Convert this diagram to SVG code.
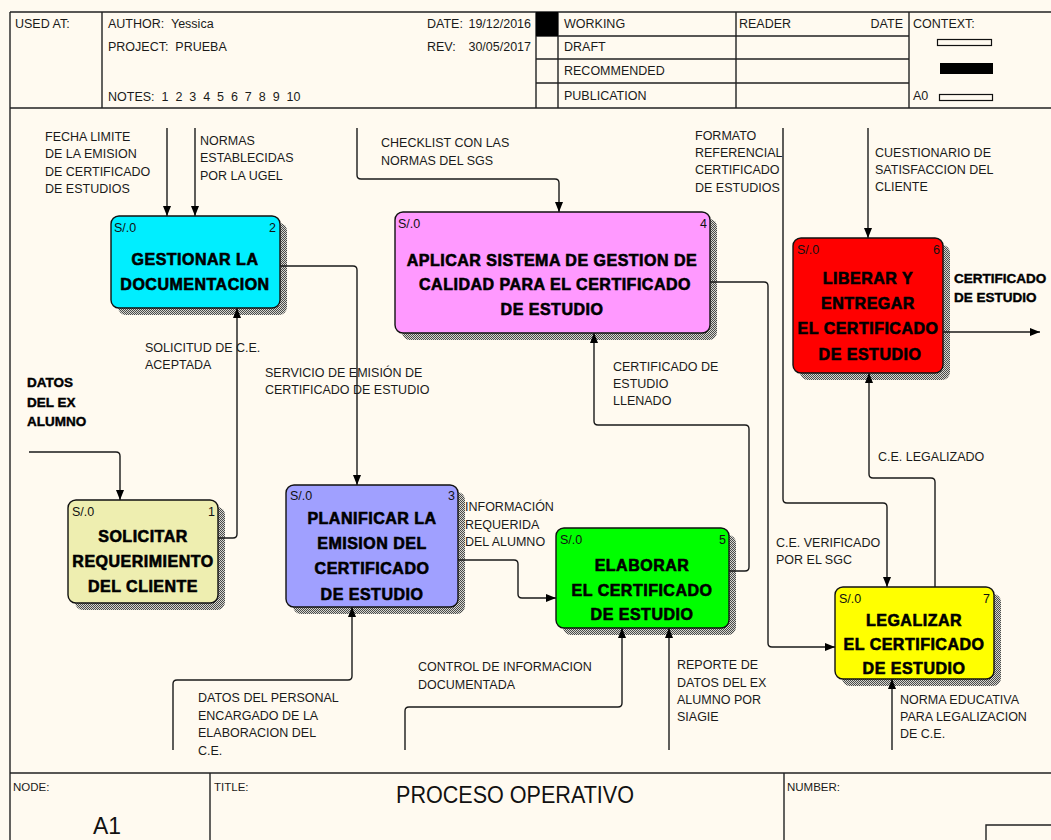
<svg xmlns="http://www.w3.org/2000/svg" width="1051" height="840" viewBox="0 0 1051 840">
  <defs>
    <style>
      .frame { fill: none; stroke: #222; stroke-width: 1.4; }
      .hdr { font-family: "Liberation Sans", Arial, sans-serif; font-size: 12.5px; fill: #1a1a1a; white-space: pre; }
      .small { font-family: "Liberation Sans", Arial, sans-serif; font-size: 11.5px; fill: #1a1a1a; }
      .lbl { font-family: "Liberation Sans", Arial, sans-serif; font-size: 12.5px; fill: #1a1a1a; }
      .blbl { font-family: "Liberation Sans", Arial, sans-serif; font-size: 13.5px; font-weight: bold; fill: #000; stroke: #000; stroke-width: 0.4; }
      .box { stroke: #111; stroke-width: 1.4; }
      .shadow { fill: url(#hatch); }
      .tag { font-family: "Liberation Sans", Arial, sans-serif; font-size: 12.5px; fill: #111; }
      .title { font-family: "Liberation Sans", Arial, sans-serif; font-size: 16px; font-weight: bold; fill: #000; stroke: #000; stroke-width: 0.6; letter-spacing: 0.5px; text-anchor: middle; }
      .wire { fill: none; stroke: #1a1a1a; stroke-width: 1.4; }
      .arrow { marker-end: url(#head); }
    </style>
    <pattern id="hatch" width="2" height="2" patternUnits="userSpaceOnUse">
      <rect width="2" height="2" fill="#d6d6cf"/>
      <rect x="0" y="0" width="1" height="1" fill="#4a4a4a"/>
      <rect x="1" y="1" width="1" height="1" fill="#4a4a4a"/>
    </pattern>
    <marker id="head" markerWidth="10" markerHeight="8" refX="10" refY="4" orient="auto" markerUnits="userSpaceOnUse">
      <path d="M0,0 L10,4 L0,8 z" fill="#000"/>
    </marker>
  </defs>

  <!-- sheet -->
  <rect width="1051" height="840" fill="#fffaf0"/>

  <!-- header block -->
  <g id="header">
    <path class="frame" d="M10 12 H1051 M10 12 V840 M10 108 H1051 M102 12 V108 M536 12 V108 M558 12 V108 M736 12 V108 M909 12 V108 M536 36 H909 M536 59 H909 M536 83 H909"/>
    <rect x="536" y="12" width="22" height="24" fill="#000"/>
    <text class="hdr" x="15" y="28">USED AT:</text>
    <text class="hdr" x="108" y="28">AUTHOR:  Yessica</text>
    <text class="hdr" x="108" y="51">PROJECT:  PRUEBA</text>
    <text class="hdr" x="108" y="101">NOTES:  1  2  3  4  5  6  7  8  9  10</text>
    <text class="hdr" x="427" y="28">DATE:</text>
    <text class="hdr" x="531" y="28" text-anchor="end">19/12/2016</text>
    <text class="hdr" x="427" y="51">REV:</text>
    <text class="hdr" x="531" y="51" text-anchor="end">30/05/2017</text>
    <text class="hdr" x="564" y="28">WORKING</text>
    <text class="hdr" x="564" y="51">DRAFT</text>
    <text class="hdr" x="564" y="75">RECOMMENDED</text>
    <text class="hdr" x="564" y="100">PUBLICATION</text>
    <text class="hdr" x="739" y="28">READER</text>
    <text class="hdr" x="903" y="28" text-anchor="end">DATE</text>
    <text class="hdr" x="913" y="28">CONTEXT:</text>
    <rect x="937.5" y="39.5" width="54" height="6" fill="none" stroke="#111" stroke-width="1.2"/>
    <rect x="940" y="63" width="53" height="11" fill="#000"/>
    <text class="hdr" x="913" y="100">A0</text>
    <rect x="939.5" y="94.5" width="53" height="6" fill="none" stroke="#111" stroke-width="1.2"/>
  </g>

  <!-- footer block -->
  <g id="footer">
    <path class="frame" d="M10 773 H1051 M210 773 V840 M784 773 V840 M986 840 V825 H1051"/>
    <text class="small" x="13" y="791">NODE:</text>
    <text class="small" x="214" y="791">TITLE:</text>
    <text class="small" x="787" y="791">NUMBER:</text>
    <text x="93" y="834" font-family="Liberation Sans, Arial, sans-serif" font-size="23" fill="#111" textLength="28" lengthAdjust="spacingAndGlyphs">A1</text>
    <text x="396" y="803" font-family="Liberation Sans, Arial, sans-serif" font-size="23" fill="#111" textLength="238" lengthAdjust="spacingAndGlyphs">PROCESO OPERATIVO</text>
  </g>

  <!-- activity boxes -->
  <g id="box1">
    <rect class="shadow" x="75" y="507" width="150" height="103" rx="8"/>
    <rect class="box" x="68" y="500" width="150" height="103" rx="8" fill="#eeeeb0"/>
    <text class="tag" x="72" y="516">S/.0</text>
    <text class="tag" x="215" y="516" text-anchor="end">1</text>
    <text class="title" x="143" y="542">SOLICITAR</text>
    <text class="title" x="143" y="567">REQUERIMIENTO</text>
    <text class="title" x="143" y="592">DEL CLIENTE</text>
  </g>

  <g id="box2">
    <rect class="shadow" x="118" y="223" width="169" height="92" rx="8"/>
    <rect class="box" x="111" y="216" width="169" height="92" rx="8" fill="#00eeff"/>
    <text class="tag" x="114" y="232">S/.0</text>
    <text class="tag" x="276" y="232" text-anchor="end">2</text>
    <text class="title" x="195" y="265">GESTIONAR LA</text>
    <text class="title" x="195" y="290">DOCUMENTACION</text>
  </g>

  <g id="box3">
    <rect class="shadow" x="293" y="492" width="172" height="122" rx="8"/>
    <rect class="box" x="286" y="485" width="172" height="122" rx="8" fill="#a0a0ff"/>
    <text class="tag" x="290" y="500">S/.0</text>
    <text class="tag" x="455" y="500" text-anchor="end">3</text>
    <text class="title" x="372" y="524">PLANIFICAR LA</text>
    <text class="title" x="372" y="549">EMISION DEL</text>
    <text class="title" x="372" y="574">CERTIFICADO</text>
    <text class="title" x="372" y="600">DE ESTUDIO</text>
  </g>

  <g id="box4">
    <rect class="shadow" x="402" y="219" width="315" height="121" rx="8"/>
    <rect class="box" x="395" y="212" width="315" height="121" rx="8" fill="#ff99ff"/>
    <text class="tag" x="398" y="228">S/.0</text>
    <text class="tag" x="707" y="228" text-anchor="end">4</text>
    <text class="title" x="552" y="266">APLICAR SISTEMA DE GESTION DE</text>
    <text class="title" x="555" y="290">CALIDAD PARA EL CERTIFICADO</text>
    <text class="title" x="552" y="315">DE ESTUDIO</text>
  </g>

  <g id="box5">
    <rect class="shadow" x="563" y="535" width="173" height="100" rx="8"/>
    <rect class="box" x="556" y="528" width="173" height="100" rx="8" fill="#00ff00"/>
    <text class="tag" x="560" y="544">S/.0</text>
    <text class="tag" x="726" y="544" text-anchor="end">5</text>
    <text class="title" x="642" y="571">ELABORAR</text>
    <text class="title" x="642" y="596">EL CERTIFICADO</text>
    <text class="title" x="642" y="620">DE ESTUDIO</text>
  </g>

  <g id="box6">
    <rect class="shadow" x="800" y="245" width="150" height="135" rx="8"/>
    <rect class="box" x="793" y="238" width="150" height="135" rx="8" fill="#ff0000"/>
    <text class="tag" x="797" y="254">S/.0</text>
    <text class="tag" x="940" y="254" text-anchor="end">6</text>
    <text class="title" x="868" y="284">LIBERAR Y</text>
    <text class="title" x="868" y="309">ENTREGAR</text>
    <text class="title" x="868" y="334">EL CERTIFICADO</text>
    <text class="title" x="870" y="360">DE ESTUDIO</text>
  </g>

  <g id="box7">
    <rect class="shadow" x="842" y="594" width="159" height="92" rx="8"/>
    <rect class="box" x="835" y="587" width="159" height="92" rx="8" fill="#ffff00"/>
    <text class="tag" x="839" y="603">S/.0</text>
    <text class="tag" x="990" y="603" text-anchor="end">7</text>
    <text class="title" x="914" y="626">LEGALIZAR</text>
    <text class="title" x="914" y="650">EL CERTIFICADO</text>
    <text class="title" x="914" y="674">DE ESTUDIO</text>
  </g>

  <!-- arrows between activities -->
  <g id="connectors">
    <path class="wire arrow" d="M167 128 V216"/>
    <path class="wire arrow" d="M195 128 V216"/>
    <path class="wire arrow" d="M280 266 H353 Q357 266 357 270 V485"/>
    <path class="wire arrow" d="M218 538 H233 Q237 538 237 534 V308"/>
    <path class="wire arrow" d="M29 452 H116 Q120 452 120 456 V500"/>
    <path class="wire arrow" d="M357 128 V175 Q357 179 361 179 H555 Q559 179 559 183 V212"/>
    <path class="wire arrow" d="M868 128 V238"/>
    <path class="wire arrow" d="M943 332 H1040"/>
    <path class="wire arrow" d="M783 128 V499 Q783 503 787 503 H883 Q887 503 887 507 V587"/>
    <path class="wire arrow" d="M710 282 H764 Q768 282 768 286 V643 Q768 647 772 647 H835"/>
    <path class="wire arrow" d="M935 587 V482 Q935 478 931 478 H873 Q869 478 869 474 V373"/>
    <path class="wire arrow" d="M729 571 H745 Q749 571 749 567 V429 Q749 425 745 425 H598 Q594 425 594 421 V333"/>
    <path class="wire arrow" d="M458 560 H514 Q518 560 518 564 V594 Q518 598 522 598 H556"/>
    <path class="wire arrow" d="M173 750 V684 Q173 680 177 680 H348 Q352 680 352 676 V607"/>
    <path class="wire arrow" d="M405 750 V711 Q405 707 409 707 H618 Q622 707 622 703 V628"/>
    <path class="wire arrow" d="M669 750 V628"/>
    <path class="wire arrow" d="M892 750 V679"/>
  </g>

  <!-- arrow labels -->
  <g id="labels">
    <text class="lbl" x="45" y="141">FECHA LIMITE</text>
    <text class="lbl" x="45" y="158">DE LA EMISION</text>
    <text class="lbl" x="45" y="176">DE CERTIFICADO</text>
    <text class="lbl" x="45" y="193">DE ESTUDIOS</text>

    <text class="lbl" x="200" y="145">NORMAS</text>
    <text class="lbl" x="200" y="162">ESTABLECIDAS</text>
    <text class="lbl" x="200" y="180">POR LA UGEL</text>

    <text class="lbl" x="381" y="147">CHECKLIST CON LAS</text>
    <text class="lbl" x="381" y="165">NORMAS DEL SGS</text>

    <text class="lbl" x="695" y="140">FORMATO</text>
    <text class="lbl" x="695" y="157">REFERENCIAL</text>
    <text class="lbl" x="695" y="174">CERTIFICADO</text>
    <text class="lbl" x="695" y="192">DE ESTUDIOS</text>

    <text class="lbl" x="875" y="157">CUESTIONARIO DE</text>
    <text class="lbl" x="875" y="174">SATISFACCION DEL</text>
    <text class="lbl" x="875" y="191">CLIENTE</text>

    <text class="blbl" x="954" y="283">CERTIFICADO</text>
    <text class="blbl" x="954" y="302">DE ESTUDIO</text>

    <text class="lbl" x="145" y="352">SOLICITUD DE C.E.</text>
    <text class="lbl" x="145" y="369">ACEPTADA</text>

    <text class="lbl" x="265" y="377">SERVICIO DE EMISIÓN DE</text>
    <text class="lbl" x="265" y="394">CERTIFICADO DE ESTUDIO</text>

    <text class="blbl" x="27" y="387">DATOS</text>
    <text class="blbl" x="27" y="407">DEL EX</text>
    <text class="blbl" x="27" y="426">ALUMNO</text>

    <text class="lbl" x="613" y="371">CERTIFICADO DE</text>
    <text class="lbl" x="613" y="388">ESTUDIO</text>
    <text class="lbl" x="613" y="405">LLENADO</text>

    <text class="lbl" x="878" y="461">C.E. LEGALIZADO</text>

    <text class="lbl" x="465" y="511">INFORMACIÓN</text>
    <text class="lbl" x="465" y="529">REQUERIDA</text>
    <text class="lbl" x="465" y="546">DEL ALUMNO</text>

    <text class="lbl" x="776" y="547">C.E. VERIFICADO</text>
    <text class="lbl" x="776" y="564">POR EL SGC</text>

    <text class="lbl" x="418" y="671">CONTROL DE INFORMACION</text>
    <text class="lbl" x="418" y="689">DOCUMENTADA</text>

    <text class="lbl" x="677" y="669">REPORTE DE</text>
    <text class="lbl" x="677" y="687">DATOS DEL EX</text>
    <text class="lbl" x="677" y="704">ALUMNO POR</text>
    <text class="lbl" x="677" y="721">SIAGIE</text>

    <text class="lbl" x="198" y="702">DATOS DEL PERSONAL</text>
    <text class="lbl" x="198" y="720">ENCARGADO DE LA</text>
    <text class="lbl" x="198" y="737">ELABORACION DEL</text>
    <text class="lbl" x="198" y="755">C.E.</text>

    <text class="lbl" x="900" y="704">NORMA EDUCATIVA</text>
    <text class="lbl" x="900" y="721">PARA LEGALIZACION</text>
    <text class="lbl" x="900" y="738">DE C.E.</text>
  </g>
</svg>
